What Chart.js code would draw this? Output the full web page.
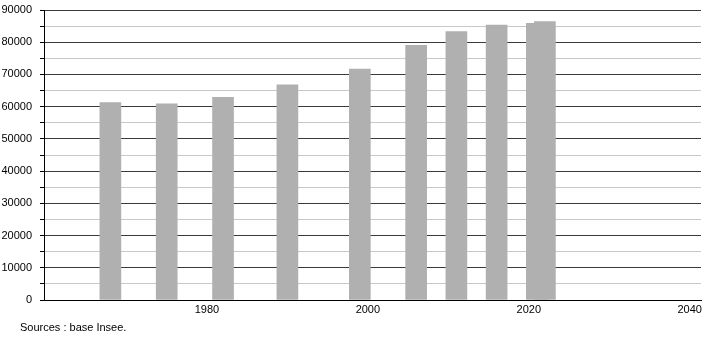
<!DOCTYPE html>
<html>
<head>
<meta charset="utf-8">
<script src="https://cdn.jsdelivr.net/npm/chart.js@4"></script>
<style>
  body { margin: 0; background: #fff; }
  #wrap { position: relative; width: 710px; height: 340px; }
  #src { position: absolute; left: 20px; top: 321px; font: 11px "Liberation Sans", Arial, sans-serif; color: #000; }
</style>
</head>
<body>
<div id="wrap">
  <canvas id="popChart" width="710" height="340"></canvas>
  <div id="src">Sources : base Insee.</div>
</div>
<script>
// census years and population
var years = [1968, 1975, 1982, 1990, 1999, 2006, 2011, 2016, 2021, 2022];
var population = [61300, 60900, 62900, 66800, 71700, 79000, 83300, 85300, 85900, 86400];
var xTicks = [1980, 2000, 2020, 2040];

var points = [];
for (var i = 0; i < years.length; i++) {
  points.push({ x: years[i], y: population[i] });
}

var ctx = document.getElementById('popChart').getContext('2d');

var myChart = new Chart(ctx, {
  type: 'bar',
  data: {
    datasets: [{
      data: points,
      backgroundColor: '#b0b0b0',
      borderWidth: 0,
      barThickness: 21
    }]
  },
  options: {
    responsive: false,
    animation: false,
    layout: { padding: { top: 10, right: 9, left: 0, bottom: 0 } },
    plugins: {
      legend: { display: false },
      tooltip: { enabled: false }
    },
    scales: {
      x: {
        type: 'linear',
        offset: false,
        min: 1959.75,
        max: 2041.4,
        afterBuildTicks: function (axis) {
          axis.ticks = xTicks.map(function (v) { return { value: v }; });
        },
        afterFit: function (axis) {
          axis.height = 40;
          axis.paddingLeft = 0;
          axis.paddingRight = 0;
        },
        grid: { display: false, drawTicks: false, offset: false },
        border: { color: '#000', width: 1 },
        ticks: {
          padding: 3,
          color: '#000',
          autoSkip: false,
          maxRotation: 0,
          font: { family: 'Liberation Sans', size: 11 },
          callback: function (v) { return String(v); }
        }
      },
      y: {
        min: 0,
        max: 90000,
        afterFit: function (axis) {
          axis.width = 44;
          axis.paddingTop = 0;
          axis.paddingBottom = 0;
        },
        grid: {
          color: function (c) {
            return c.tick && c.tick.value % 10000 === 0 ? '#3a3a3a' : '#c8c8c8';
          },
          tickColor: '#000',
          tickLength: 4,
          lineWidth: 1
        },
        border: { color: '#000', width: 1 },
        ticks: {
          stepSize: 5000,
          maxTicksLimit: 100,
          autoSkip: false,
          padding: 8,
          color: '#000',
          font: { family: 'Liberation Sans', size: 11 },
          callback: function (v) { return v % 10000 === 0 ? String(v) : ''; }
        }
      }
    }
  }
});
</script>
</body>
</html>
